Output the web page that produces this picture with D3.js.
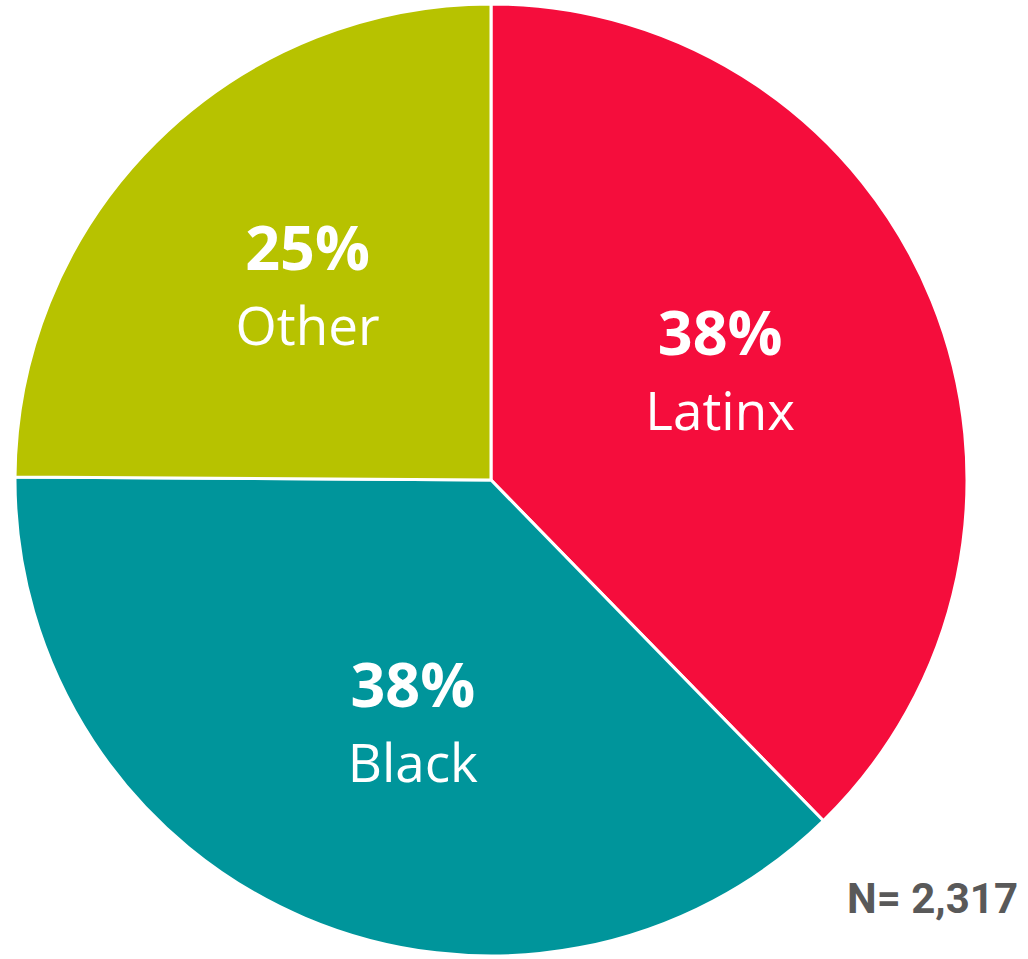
<!DOCTYPE html>
<html><head><meta charset="utf-8">
<script src="https://cdn.jsdelivr.net/npm/d3@7"></script>
<style>body{margin:0;background:#fff}svg{display:block}</style>
</head><body>
<svg id="c" width="1028" height="959"></svg>
<script>
const categories = ["Latinx", "Black", "Other"];
const values = [37.7, 37.4, 24.9];
const pctLabels = ["38%", "38%", "25%"];
const colors = ["#F50D3C", "#00959B", "#B7C200"];
const note = "N= 2,317";

// layout: small label nudges (px) from the slice's label point
const labelNudge = [[-8, -14], [22, 6], [-3, -13]];

const svg = d3.select("#c");
const cx = 491, cy = 480, r = 476, labelR = 256;
const g = svg.append("g").attr("transform", `translate(${cx},${cy})`);
const data = categories.map((c, i) => ({cat: c, v: values[i], pct: pctLabels[i], col: colors[i], nudge: labelNudge[i]}));
const pie = d3.pie().value(d => d.v).sort(null);
const arc = d3.arc().innerRadius(0).outerRadius(r);
const arcs = pie(data);
g.selectAll("path").data(arcs).join("path")
  .attr("d", arc).attr("fill", d => d.data.col)
  .attr("stroke", "#fff").attr("stroke-width", 3).attr("stroke-linejoin", "miter");
const lab = g.selectAll("g.lab").data(arcs).join("g").attr("class", "lab")
  .attr("transform", d => {
    const a = (d.startAngle + d.endAngle) / 2;
    return `translate(${labelR*Math.sin(a) + d.data.nudge[0]},${-labelR*Math.cos(a) + d.data.nudge[1]})`;
  });
lab.append("text").attr("text-anchor", "middle").attr("y", -15)
  .attr("font-family", "Open Sans").attr("font-weight", 700).attr("font-size", 61).attr("fill", "#fff")
  .text(d => d.data.pct);
lab.append("text").attr("text-anchor", "middle").attr("y", 60)
  .attr("font-family", "Open Sans").attr("font-weight", 400).attr("font-size", 53).attr("fill", "#fff")
  .text(d => d.data.cat);
svg.append("text").attr("x", 1018).attr("y", 913).attr("text-anchor", "end")
  .attr("font-family", "Roboto").attr("font-weight", 700).attr("font-size", 42).attr("fill", "#595959")
  .text(note);
</script>
</body></html>
